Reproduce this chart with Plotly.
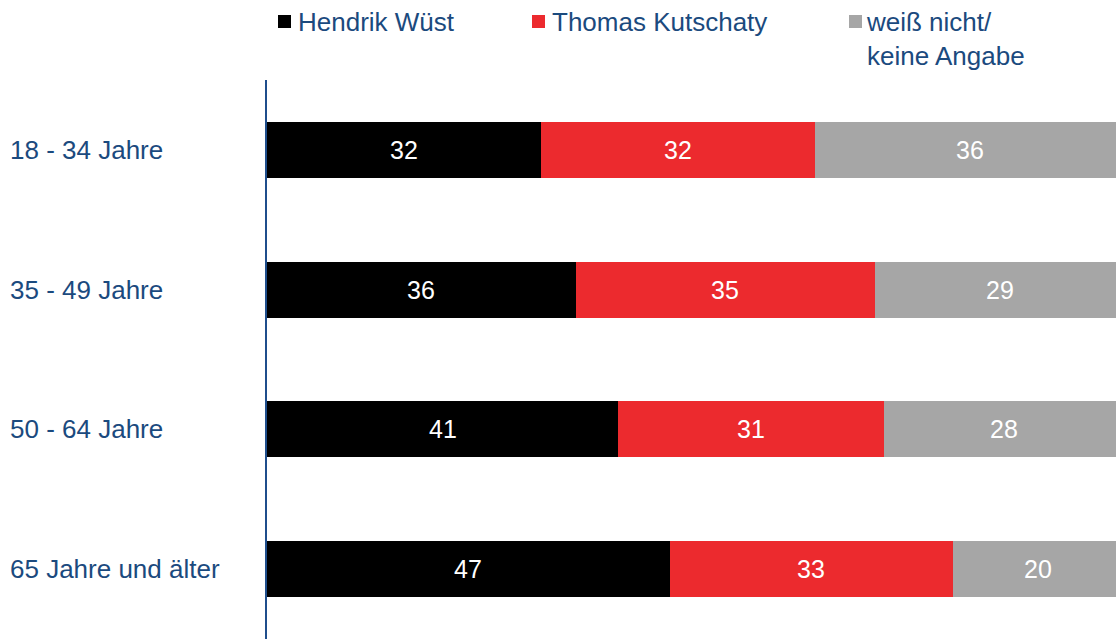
import plotly.graph_objects as go

categories = ["18 - 34 Jahre", "35 - 49 Jahre", "50 - 64 Jahre", "65 Jahre und älter"]
series_names = ["Hendrik Wüst", "Thomas Kutschaty", "weiß nicht/<br>keine Angabe"]
wuest = [32, 36, 41, 47]
kutschaty = [32, 35, 31, 33]
weiss_nicht = [36, 29, 28, 20]

colors = ["#000000", "#EC2A2E", "#A6A6A6"]
text_blue = "#1B4A7E"
FONT = "Liberation Sans, Arial, sans-serif"

series = [wuest, kutschaty, weiss_nicht]

fig = go.Figure()
for name, vals, col in zip(series_names, series, colors):
    fig.add_trace(go.Bar(
        y=categories, x=vals, orientation="h", name=name,
        marker=dict(color=col, line=dict(width=0)),
        width=0.4, showlegend=False, hoverinfo="x+name",
    ))

# value labels centred in each segment (computed from data)
annotations = []
for i, cat in enumerate(categories):
    start = 0
    for vals in series:
        v = vals[i]
        annotations.append(dict(
            x=start + v / 2, y=cat, xref="x", yref="y", text=str(v),
            showarrow=False, font=dict(color="white", size=25, family=FONT),
            xanchor="center", yanchor="middle",
        ))
        start += v

L, R, T = 267, 0, 80
W, H = 1116, 639
pw = W - L - R
def px(xpix):
    return (xpix - L) / pw

# category labels, left aligned
for cat in categories:
    annotations.append(dict(
        x=px(8), xref="paper", y=cat, yref="y", text=cat, showarrow=False,
        xanchor="left", yanchor="middle",
        font=dict(color=text_blue, size=26, family=FONT),
    ))

# custom legend (squares + text)
shapes = []
legend_sq = [278, 532, 849]
legend_tx = [296, 550, 864]
for name, col, sx, tx in zip(series_names, colors, legend_sq, legend_tx):
    annotations.append(dict(
        x=px(tx), xref="paper", y=1, yref="paper", yshift=T - 5,
        text=name, showarrow=False, xanchor="left", yanchor="top", align="left",
        font=dict(color=text_blue, size=26, family=FONT),
    ))
    shapes.append(dict(
        type="rect", xref="paper", yref="paper",
        xsizemode="pixel", ysizemode="pixel",
        xanchor=px(sx), yanchor=1,
        x0=0, x1=13, y0=T - 15, y1=T - 28,
        fillcolor=col, line=dict(width=0),
    ))

fig.update_layout(
    width=W, height=H,
    margin=dict(l=L, r=R, t=T, b=0),
    paper_bgcolor="white", plot_bgcolor="white",
    barmode="stack", bargap=0.6,
    xaxis=dict(range=[0, 99.07], showgrid=False, zeroline=False,
               showticklabels=False, showline=False, fixedrange=True),
    yaxis=dict(autorange=False, range=[3.5, -0.5], showgrid=False,
               showticklabels=False, showline=True, linecolor="#1F4E8C",
               linewidth=2, ticks="", zeroline=False, fixedrange=True,
               type="category", categoryorder="array", categoryarray=categories),
    annotations=annotations,
    shapes=shapes,
    font=dict(family=FONT),
)

fig.write_html("out.html", config={"displayModeBar": False},
               post_script="document.body.style.margin='0';document.body.style.overflow='hidden';")
